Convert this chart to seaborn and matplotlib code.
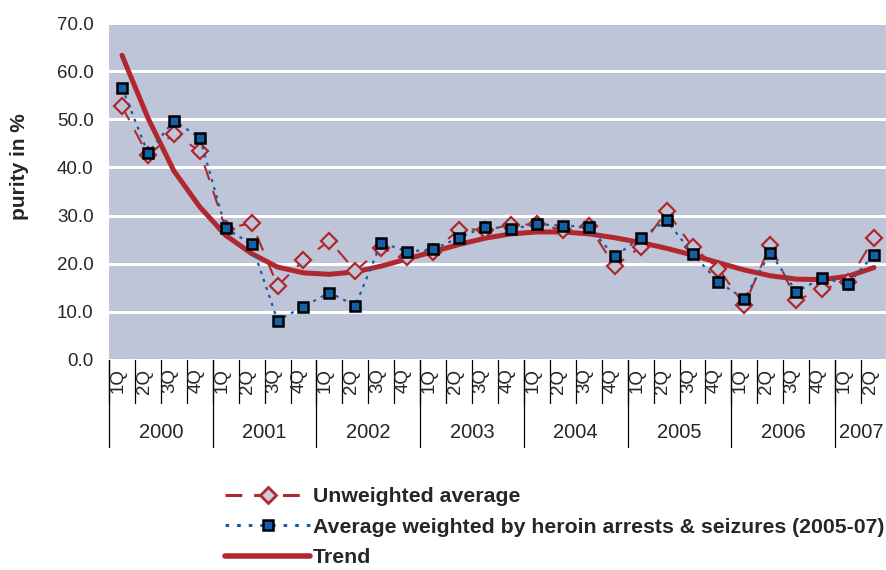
import numpy as np
import pandas as pd
import matplotlib
matplotlib.use("Agg")
import matplotlib.pyplot as plt
import matplotlib.transforms as mtransforms
from matplotlib.lines import Line2D
import seaborn as sns

# ---- data -------------------------------------------------------------
years = ["2000", "2001", "2002", "2003", "2004", "2005", "2006", "2007"]
quarters_per_year = [4, 4, 4, 4, 4, 4, 4, 2]
quarter_names = ["1Q", "2Q", "3Q", "4Q"]

unweighted = [52.7, 42.5, 47.0, 43.4, 27.2, 28.5, 15.4, 20.7, 24.8, 18.5,
              23.2, 21.3, 22.5, 27.1, 27.1, 28.0, 28.2, 27.0, 27.9, 19.5,
              23.5, 30.9, 23.5, 19.0, 11.4, 23.9, 12.4, 14.7, 16.3, 25.3]
weighted = [56.6, 43.0, 49.7, 46.2, 27.4, 24.0, 8.2, 11.1, 14.0, 11.3,
            24.4, 22.5, 23.0, 25.4, 27.7, 27.2, 28.2, 27.9, 27.7, 21.5,
            25.4, 29.0, 22.1, 16.2, 12.7, 22.3, 14.2, 17.0, 15.8, 21.9]
trend = [63.3, 50.3, 39.3, 31.8, 25.9, 22.1, 19.3, 18.1, 17.8, 18.3,
         19.5, 21.0, 22.5, 24.0, 25.3, 26.2, 26.6, 26.6, 26.2, 25.4,
         24.4, 23.2, 21.8, 20.2, 18.7, 17.5, 16.8, 16.7, 17.4, 19.2]

y_ticks = [0, 10, 20, 30, 40, 50, 60, 70]
y_label = "purity in %"
legend_labels = ["Unweighted average",
                 "Average weighted by heroin arrests & seizures (2005-07)",
                 "Trend"]

quarter_labels = [q for n in quarters_per_year for q in quarter_names[:n]]
df = pd.DataFrame({"pos": np.arange(len(quarter_labels)),
                   "unweighted": unweighted,
                   "weighted": weighted,
                   "trend": trend})

# ---- style ------------------------------------------------------------
sns.set_style("white")
plt.rcParams["font.family"] = ["Liberation Sans", "DejaVu Sans"]

RED = "#B0282D"
BLUE_LINE = "#1A5B9C"
BLUE_FILL = "#145FA6"
BG = "#BEC5D8"
DIAMOND_FILL = "#C9CDDD"

fig = plt.figure(figsize=(8.87, 5.70), dpi=100)
ax = fig.add_axes([109 / 887, 1 - 360 / 570, 778 / 887, 337 / 570])
ax.set_facecolor(BG)
for s in ax.spines.values():
    s.set_visible(False)

# ---- series -----------------------------------------------------------
sns.lineplot(data=df, x="pos", y="trend", ax=ax, color=RED, lw=3.6,
             solid_capstyle="round", solid_joinstyle="round", zorder=3)
sns.lineplot(data=df, x="pos", y="unweighted", ax=ax, color=RED, lw=1.5,
             marker="D", markersize=8.5, markerfacecolor=BG,
             markeredgecolor=RED, markeredgewidth=1.6, zorder=4)
ax.lines[-1].set_dashes((7.5, 5.5))
sns.lineplot(data=df, x="pos", y="weighted", ax=ax, color=BLUE_LINE, lw=1.6,
             marker="s", markersize=7.5, markerfacecolor=BLUE_FILL,
             markeredgecolor="black", markeredgewidth=1.8, zorder=5)
ax.lines[-1].set_dashes((1.4, 2.4))

# ---- axes -------------------------------------------------------------
n = len(quarter_labels)
ax.set_xlim(-0.5, n - 0.5)
ax.set_ylim(y_ticks[0], y_ticks[-1])
ax.set_yticks(y_ticks)
ax.set_yticklabels([f"{v:.1f}" for v in y_ticks], fontsize=13.5)
ax.tick_params(axis="y", length=0, pad=11)
ax.set_xticks([])
ax.set_xlabel("")
ax.set_ylabel("")
ax.yaxis.grid(True, color="white", lw=2.2)
ax.xaxis.grid(False)
ax.set_axisbelow(True)

fig.text(20 / 887, 1 - 167 / 570, y_label, rotation=90, ha="center",
         va="center", fontsize=15, fontweight="bold")

# ---- category table under the plot ------------------------------------
trans = mtransforms.blended_transform_factory(ax.transData, ax.transAxes)
q_bottom = -43 / 337
y_bottom = -87 / 337
for i in range(n + 1):
    ax.plot([i - 0.5, i - 0.5], [0, q_bottom], transform=trans,
            color="black", lw=0.9, clip_on=False)
for i, lab in enumerate(quarter_labels):
    ax.text(i - 0.15, -21 / 337, lab, transform=trans, rotation=90,
            ha="center", va="center", fontsize=13.5)
start = 0
for yr, cnt in zip(years, quarters_per_year):
    ax.plot([start - 0.5, start - 0.5], [0, y_bottom], transform=trans,
            color="black", lw=0.9, clip_on=False)
    ax.text(start + cnt / 2 - 0.5, -73 / 337, yr, transform=trans,
            ha="center", va="center", fontsize=14.5)
    start += cnt
ax.plot([start - 0.5, start - 0.5], [0, y_bottom], transform=trans,
        color="black", lw=0.9, clip_on=False)

# ---- legend -----------------------------------------------------------
handles = [
    Line2D([], [], color=RED, lw=2.2, dashes=(5.5, 3.9), marker="D",
           markersize=8.5, markerfacecolor=DIAMOND_FILL, markeredgecolor=RED,
           markeredgewidth=2),
    Line2D([], [], color=BLUE_LINE, lw=2.2, dashes=(1.2, 2.6), marker="s",
           markersize=7.5, markerfacecolor=BLUE_FILL, markeredgecolor="black",
           markeredgewidth=1.8),
    Line2D([], [], color=RED, lw=4, solid_capstyle="round"),
]
leg = fig.legend(handles, legend_labels, loc="upper left",
                 bbox_to_anchor=(225 / 887, 1 - 487 / 570), frameon=False,
                 handlelength=4.0, handletextpad=0.14, labelspacing=0.55,
                 numpoints=1, borderaxespad=0, borderpad=0,
                 prop={"weight": "bold", "size": 15.3})

fig.savefig("out.png", dpi=100, facecolor="white")
